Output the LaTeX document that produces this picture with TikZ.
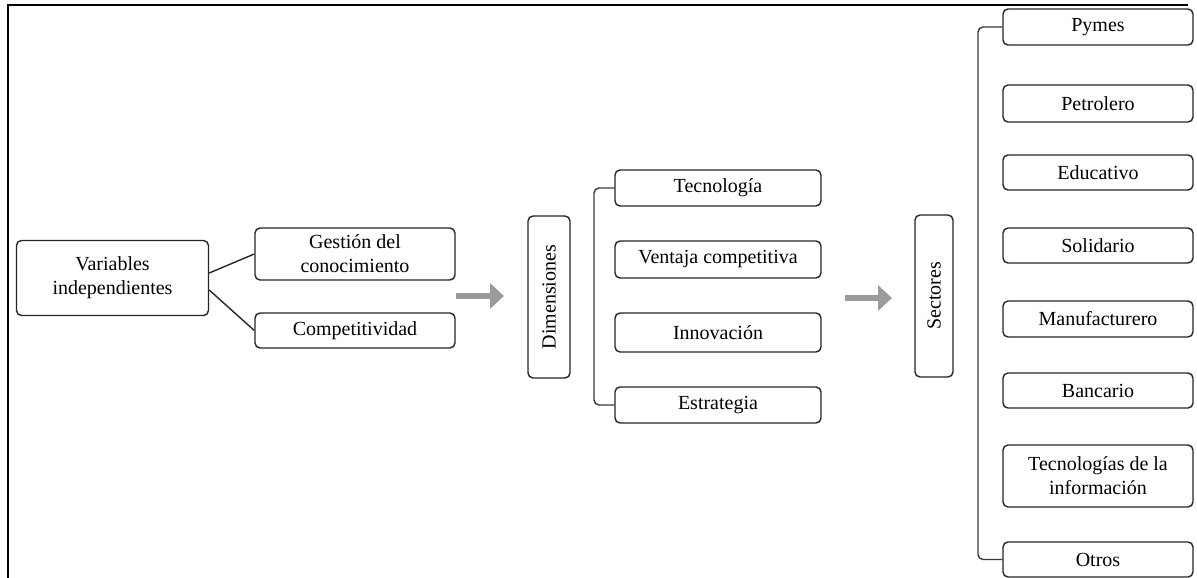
\documentclass[tikz,border=0pt]{standalone}
\usepackage{fontspec}
\setmainfont{Liberation Serif}
\usepackage{tikz}
\usetikzlibrary{positioning,arrows.meta,calc}
\definecolor{boxline}{HTML}{262626}
\definecolor{railgray}{HTML}{3A3A3A}
\definecolor{pushgray}{HTML}{9B9B9B}
\tikzset{
  item/.style   = {rectangle, rounded corners=5pt, draw=boxline, fill=white, line width=1.4pt,
                   minimum width=#1, minimum height=36pt, inner sep=2pt, align=center},
  upright/.style = {item=162pt, rotate=90},
  link/.style   = {draw=boxline, line width=1.4pt},
  rail/.style   = {draw=railgray, line width=1.4pt, rounded corners=5pt},
  push/.style   = {-{Triangle[length=14pt, width=25pt]}, line width=5.5pt, draw=pushgray},
  frame/.style  = {draw=black, line width=1.6pt},
}

\begin{document}
\begin{tikzpicture}[x=1pt, y=-1pt, font=\fontsize{20}{24}\selectfont]
  \useasboundingbox (0,0) rectangle (1197,578);
  \draw[frame] (8,578) -- (8,5) -- (1188,5);

  \node[item=192pt, minimum height=75pt] (var) at (112.5,278) {Variables\\ independientes};
  \node[item=200pt, minimum height=52pt] (gest) at (355,254) {Gestión del\\ conocimiento};
  \node[item=200pt, minimum height=35pt] (comp) at (355,330.5) {Competitividad};
  \draw[link] ([yshift=5pt]var.east) -- (gest.west);
  \draw[link] ([yshift=-12pt]var.east) -- (comp.west);

  \coordinate (pushA) at (456,296);
  \coordinate (pushB) at (504,296);
  \draw[push] (pushA) -- (pushB);

  \node[upright, minimum height=42pt] (dim) at (549,297) {Dimensiones};
  \foreach \nm/\y/\h/\txt in {%
     tec/188/36/Tecnología,
     ven/259.5/37/Ventaja competitiva,
     inn/332.5/39/Innovación,
     est/405/36/Estrategia%
  } {
    \node[item=206pt, minimum height=\h pt] (\nm) at (718,\y) {\txt};
  }
  \coordinate (dimrail) at (594,0);
  \draw[rail] (tec.west) -| (dimrail |- est.west) -- (est.west);

  \coordinate (pushC) at (845,298);
  \coordinate (pushD) at (892,298);
  \draw[push] (pushC) -- (pushD);

  \node[upright, minimum height=38pt] (sec) at (934,296) {Sectores};
  \foreach \nm/\y/\h/\txt in {%
     pym/27/36/Pymes,
     pet/103.5/37/Petrolero,
     edu/172.5/35/Educativo,
     sol/245.5/35/Solidario,
     man/319/36/Manufacturero,
     ban/390.5/35/Bancario,
     tin/476/62/{Tecnologías de la\\ información},
     otr/559.5/35/Otros%
  } {
    \node[item=190pt, minimum height=\h pt] (\nm) at (1098,\y) {\txt};
  }
  \coordinate (secrail) at (978,0);
  \draw[rail] (pym.west) -| (secrail |- otr.west) -- (otr.west);
\end{tikzpicture}
\end{document}
